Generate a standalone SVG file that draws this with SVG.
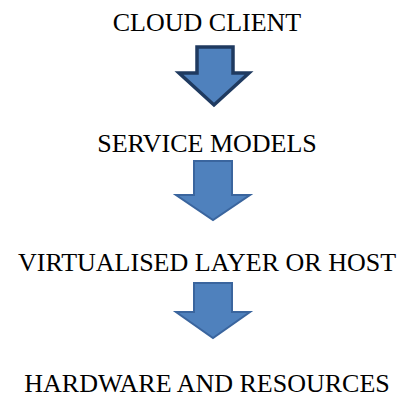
<svg xmlns="http://www.w3.org/2000/svg" width="405" height="398" viewBox="0 0 405 398">
<style>
.lbl{font-family:"Liberation Serif","Times New Roman",serif;font-size:26px;fill:#000;text-anchor:middle}
.arr{fill:#4f81bd;stroke-linejoin:miter}
</style>
<rect width="405" height="398" fill="#fff"/>
<g id="node-cloud-client"><text class="lbl" x="207" y="31">CLOUD CLIENT</text></g>
<g id="node-service-models"><text class="lbl" x="207" y="152">SERVICE MODELS</text></g>
<g id="node-virtualised"><text class="lbl" x="207" y="271">VIRTUALISED LAYER OR HOST</text></g>
<g id="node-hardware"><text class="lbl" x="207" y="392">HARDWARE AND RESOURCES</text></g>
<g id="connectors">
<polygon class="arr" stroke="#1f3a60" stroke-width="3.5" points="197,47 233,47 233,73 249,73 214,105 179,73 197,73"/>
<polygon class="arr" stroke="#3a659e" stroke-width="2" points="194,161 232,161 232,195 250,195 213,220 176,195 194,195"/>
<polygon class="arr" stroke="#3a659e" stroke-width="2" points="194,283 232,283 232,312 250,312 213,338 176,312 194,312"/>
</g>
</svg>
